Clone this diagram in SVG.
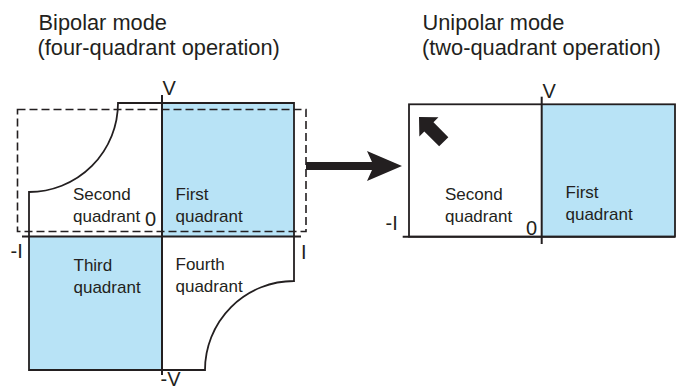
<svg xmlns="http://www.w3.org/2000/svg" width="678" height="389" viewBox="0 0 678 389">
<style>
  text { font-family: "Liberation Sans", Arial, Helvetica, sans-serif; fill: #231f20; }
  .title { font-size: 21.8px; }
  .q { font-size: 17px; }
  .ax { font-size: 20px; }
  .blue { fill: #b8e3f6; stroke: none; }
  .outline { fill: none; stroke: #231f20; stroke-width: 1.8; }
  .axis { fill: none; stroke: #231f20; stroke-width: 2; }
  .dash { fill: none; stroke: #231f20; stroke-width: 1.6; stroke-dasharray: 8 4; }
  .solid { fill: #231f20; stroke: none; }
</style>
<rect width="678" height="389" fill="#ffffff"/>

<g id="title-bipolar">
  <text class="title" x="38.5" y="29.5">Bipolar mode</text>
  <text class="title" x="37.5" y="54.5">(four-quadrant operation)</text>
</g>
<g id="title-unipolar">
  <text class="title" x="422.5" y="29.5">Unipolar mode</text>
  <text class="title" x="422" y="54.5">(two-quadrant operation)</text>
</g>

<g id="bipolar-diagram">
  <rect class="blue" x="162" y="103" width="132" height="133.5"/>
  <rect class="blue" x="29" y="236.5" width="133" height="133.5"/>
  <path class="outline" d="M118,103 L294,103 L294,281 A89,89 0 0 0 205,370 L29,370 L29,192 A89,89 0 0 0 118,103 Z"/>
  <line class="axis" x1="22" y1="236.5" x2="301" y2="236.5"/>
  <line class="axis" x1="162" y1="95" x2="162" y2="375"/>
  <rect class="dash" x="17.5" y="109.5" width="288.5" height="122"/>
  <text class="ax" x="162.5" y="95">V</text>
  <text class="ax" x="160.5" y="386" font-size="19">-V</text>
  <text class="ax" x="10.5" y="258">-I</text>
  <text class="ax" x="301" y="259">I</text>
  <text class="ax" x="145" y="226">0</text>
  <g id="q2-bipolar">
    <text class="q" x="73" y="200">Second</text>
    <text class="q" x="73" y="222">quadrant</text>
  </g>
  <g id="q1-bipolar">
    <text class="q" x="175.5" y="200">First</text>
    <text class="q" x="175.5" y="222">quadrant</text>
  </g>
  <g id="q3-bipolar">
    <text class="q" x="73.5" y="271">Third</text>
    <text class="q" x="73.5" y="293">quadrant</text>
  </g>
  <g id="q4-bipolar">
    <text class="q" x="175.5" y="270">Fourth</text>
    <text class="q" x="175.5" y="292">quadrant</text>
  </g>
</g>

<g id="unipolar-diagram">
  <rect class="blue" x="541.7" y="104.3" width="133.3" height="132.4"/>
  <rect class="outline" x="409" y="104.3" width="266" height="132.4"/>
  <line class="axis" x1="402.7" y1="236.7" x2="675" y2="236.7"/>
  <line class="axis" x1="541.7" y1="96.7" x2="541.7" y2="244"/>
  <text class="ax" x="542.5" y="97.7">V</text>
  <text class="ax" x="385.5" y="230">-I</text>
  <text class="ax" x="526" y="235">0</text>
  <g id="q2-unipolar">
    <text class="q" x="445" y="200">Second</text>
    <text class="q" x="445" y="221.7">quadrant</text>
  </g>
  <g id="q1-unipolar">
    <text class="q" x="565.5" y="198">First</text>
    <text class="q" x="565.5" y="220">quadrant</text>
  </g>
  <g id="direction-arrow">
    <path class="solid" transform="translate(419,117) rotate(45)" d="M0,0 L14,-13.5 L14,-6.5 L35,-6.5 L35,6.5 L14,6.5 L14,13.5 Z"/>
  </g>
</g>

<g id="connectors">
  <path class="solid" d="M306,162 L372,162 L367,151 L402,166 L367,181 L372,170 L306,170 Z"/>
</g>
</svg>
